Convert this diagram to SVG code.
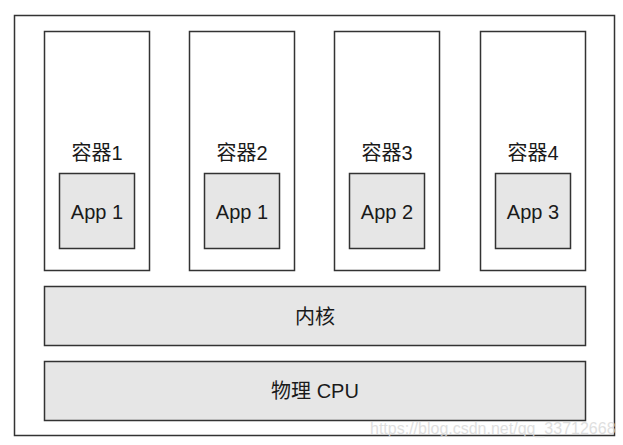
<svg xmlns="http://www.w3.org/2000/svg" width="623" height="445" viewBox="0 0 623 445">
<style>
.box{fill:#ffffff;stroke:#333333;stroke-width:1.5}
.gray{fill:#e6e6e6;stroke:#333333;stroke-width:1.5}
.t{font-family:"Liberation Sans","Noto Sans CJK SC",sans-serif;font-size:20px;fill:#1a1a1a;text-anchor:middle;dominant-baseline:central}
.wm{font-family:"Liberation Sans",sans-serif;font-size:16px;fill:#d8d8d8;opacity:0.8}
</style>
<rect width="623" height="445" fill="#ffffff"/>
<g id="host"><rect class="box" x="14.5" y="15.5" width="600" height="420"/></g>
<g id="c1"><rect class="box" x="44.5" y="31.5" width="105" height="239"/><text class="t" x="97" y="153">容器1</text></g>
<g id="app1"><rect class="gray" x="59.5" y="173.5" width="75" height="75"/><text class="t" x="97" y="212">App 1</text></g>
<g id="c2"><rect class="box" x="189.5" y="31.5" width="105" height="239"/><text class="t" x="242" y="153">容器2</text></g>
<g id="app2"><rect class="gray" x="204.5" y="173.5" width="75" height="75"/><text class="t" x="242" y="212">App 1</text></g>
<g id="c3"><rect class="box" x="334.5" y="31.5" width="105" height="239"/><text class="t" x="387" y="153">容器3</text></g>
<g id="app3"><rect class="gray" x="349.5" y="173.5" width="75" height="75"/><text class="t" x="387" y="212">App 2</text></g>
<g id="c4"><rect class="box" x="480.5" y="31.5" width="105" height="239"/><text class="t" x="533" y="153">容器4</text></g>
<g id="app4"><rect class="gray" x="495.5" y="173.5" width="75" height="75"/><text class="t" x="533" y="212">App 3</text></g>
<g id="kernel"><rect class="gray" x="44.5" y="286.5" width="541" height="59"/><text class="t" x="315" y="317">内核</text></g>
<g id="cpu"><rect class="gray" x="44.5" y="361.5" width="541" height="59"/><text class="t" x="315" y="391">物理 CPU</text></g>
<g id="connectors"></g>
<text class="wm" x="370" y="434">https://blog.csdn.net/qq_33712668</text>
</svg>
